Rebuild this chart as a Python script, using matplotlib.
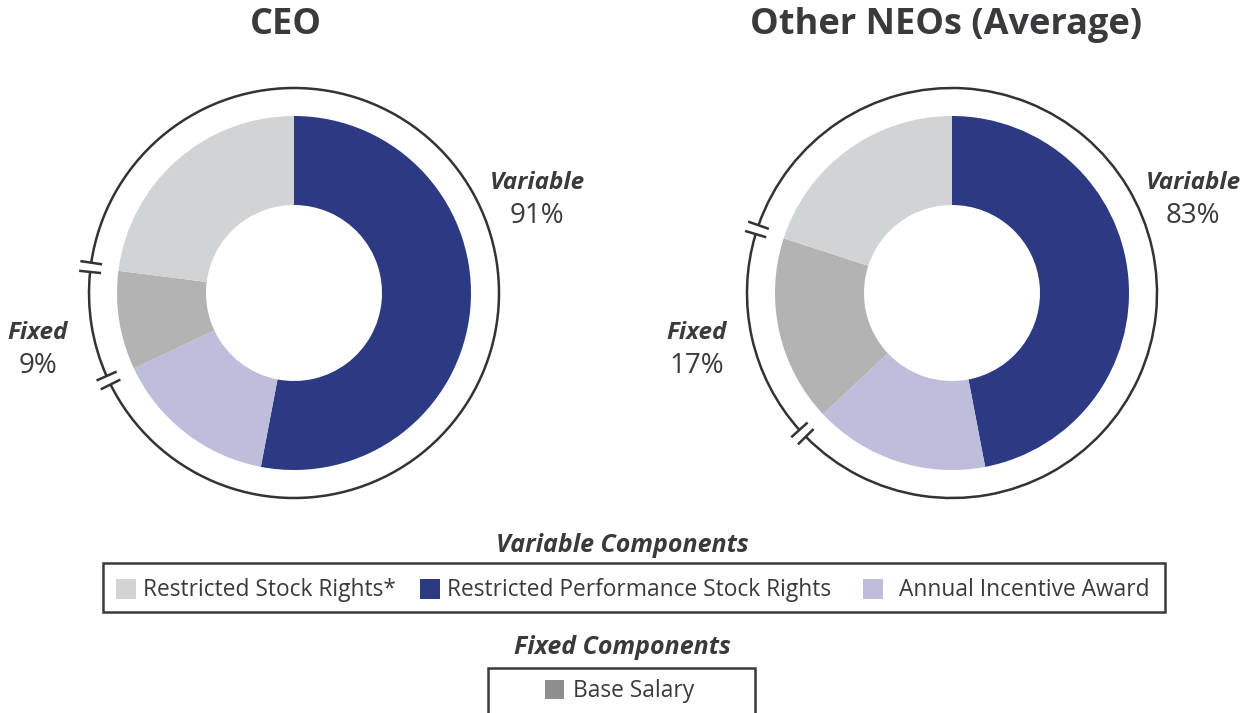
import matplotlib
matplotlib.use("Agg")
import matplotlib.pyplot as plt
from matplotlib.patches import Arc, Rectangle
import numpy as np

# ---- data ----
components = ["Restricted Performance Stock Rights", "Annual Incentive Award",
              "Base Salary", "Restricted Stock Rights*"]
ceo_values = [53, 15, 9, 23]
neo_values = [47, 16, 17, 20]
titles = ["CEO", "Other NEOs (Average)"]
variable_pct = [91, 83]
fixed_pct = [9, 17]
variable_legend = ["Restricted Stock Rights*", "Restricted Performance Stock Rights",
                   "Annual Incentive Award"]
fixed_legend = ["Base Salary"]

# ---- style ----
plt.rcParams['font.family'] = ['Open Sans', 'DejaVu Sans']
TXT = '#3a3a3c'
slice_colors = {"Restricted Performance Stock Rights": '#2b3a82',
                "Annual Incentive Award": '#bebedc',
                "Base Salary": '#b3b3b3',
                "Restricted Stock Rights*": '#d1d3d5'}
legend_colors = dict(slice_colors)
legend_colors["Base Salary"] = '#8e8e8e'

W, H = 1247, 713
fig = plt.figure(figsize=(W / 100, H / 100), dpi=100)
fig.patch.set_facecolor('white')
ax = fig.add_axes([0, 0, 1, 1])


def Y(py):
    return H - py


centers = [(294, 293), (952, 293)]
R_OUT, R_IN, R_RING = 177, 88, 205
title_x = [286, 946]
var_label_x = [537, 1193]
fix_label_x = [38, 697]
LBL = 17.5
PCT = 20
LEG = 16.4

for i, vals in enumerate([ceo_values, neo_values]):
    cx, cy = centers[i]
    ax.pie(vals, colors=[slice_colors[c] for c in components], startangle=90,
           counterclock=False, center=(cx, Y(cy)), radius=R_OUT,
           wedgeprops=dict(width=R_OUT - R_IN, linewidth=0), frame=True)
    # ring with breaks around fixed part
    a1 = 360 * sum(vals[:2]) / sum(vals)
    a2 = 360 * sum(vals[:3]) / sum(vals)
    t1, t2 = 90 - a1, 90 - a2
    g = 1.3
    ax.add_patch(Arc((cx, Y(cy)), 2 * R_RING, 2 * R_RING, theta1=t2 + g, theta2=t1 - g,
                     color='#333333', lw=1.8))
    ax.add_patch(Arc((cx, Y(cy)), 2 * R_RING, 2 * R_RING, theta1=t1 + g, theta2=t2 + 360 - g,
                     color='#333333', lw=1.8))
    for t in (t1, t2):
        for d in (-g, g):
            th = np.deg2rad(t + d)
            r0, r1 = R_RING - 11, R_RING + 11
            ax.plot([cx + r0 * np.cos(th), cx + r1 * np.cos(th)],
                    [Y(cy) + r0 * np.sin(th), Y(cy) + r1 * np.sin(th)],
                    color='#333333', lw=1.8, solid_capstyle='butt')
    ax.text(title_x[i], Y(25), titles[i], ha='center', va='center',
            fontsize=26, fontweight='bold', color=TXT)
    ax.text(var_label_x[i], Y(183), "Variable", ha='center', va='center',
            fontsize=LBL, fontweight='bold', fontstyle='italic', color=TXT)
    ax.text(var_label_x[i], Y(216), f"{variable_pct[i]}%", ha='center', va='center',
            fontsize=PCT, color=TXT)
    ax.text(fix_label_x[i], Y(333), "Fixed", ha='center', va='center',
            fontsize=LBL, fontweight='bold', fontstyle='italic', color=TXT)
    ax.text(fix_label_x[i], Y(366), f"{fixed_pct[i]}%", ha='center', va='center',
            fontsize=PCT, color=TXT)

# ---- legends ----
ax.text(622, Y(545), "Variable Components", ha='center', va='center',
        fontsize=18, fontweight='bold', fontstyle='italic', color=TXT)
ax.add_patch(Rectangle((103, Y(612)), 1062, 49, fill=False, edgecolor='#3a3a3a', lw=1.8))
patch_x = [116, 420, 863]
for x, name in zip(patch_x, variable_legend):
    ax.add_patch(Rectangle((x, Y(599)), 20, 20, color=legend_colors[name], lw=0))
    ax.text(x + 27 if x != 863 else x + 36, Y(590), name, ha='left', va='center',
            fontsize=LEG, color=TXT)

ax.text(622, Y(647), "Fixed Components", ha='center', va='center',
        fontsize=18, fontweight='bold', fontstyle='italic', color=TXT)
ax.add_patch(Rectangle((488, Y(730)), 267, 62, fill=False, edgecolor='#3a3a3a', lw=1.8))
for name in fixed_legend:
    ax.add_patch(Rectangle((545, Y(699)), 19, 19, color=legend_colors[name], lw=0))
    ax.text(573, Y(691), name, ha='left', va='center', fontsize=LEG, color=TXT)

ax.set_xlim(0, W)
ax.set_ylim(0, H)
ax.set_aspect('equal')
ax.axis('off')
fig.savefig('out.png', dpi=100, facecolor='white')
